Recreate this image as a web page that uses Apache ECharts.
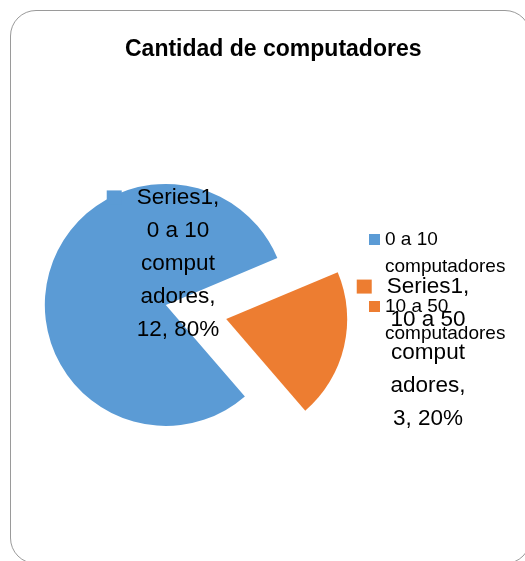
<!DOCTYPE html>
<html>
<head>
<meta charset="utf-8">
<script src="https://cdn.jsdelivr.net/npm/echarts@6/dist/echarts.min.js"></script>
<style>
  html, body { margin: 0; padding: 0; background: #fff; overflow: hidden; }
  #frame { position: absolute; left: 10px; top: 10px; width: 519px; height: 552px;
           border: 1px solid #9a9a9a; border-radius: 26px; box-sizing: content-box; }
  #chart { position: absolute; left: 0; top: 0; width: 525px; height: 561px; }
</style>
</head>
<body>
<div id="frame"></div>
<div id="chart"></div>
<script>
// ---- data ----
const chartTitle = 'Cantidad de computadores';
const seriesName = 'Series1';
const categories = ['0 a 10 computadores', '10 a 50 computadores'];
const values = [12, 3];

// ---- styling ----
const FONT = '"Liberation Sans", Arial, sans-serif';
const colors = ['#5B9BD5', '#ED7D31'];
// label shifts (dx, dy) relative to the default inside-label anchor, done with padding
const labelShifts = [[74, -27], [140, 19]];
function shiftPadding(s) {
  const dx = s[0], dy = s[1];
  return [dy > 0 ? 2 * dy : 0, dx < 0 ? -2 * dx : 0, dy < 0 ? -2 * dy : 0, dx > 0 ? 2 * dx : 0];
}

const measureCtx = document.createElement('canvas').getContext('2d');
measureCtx.font = '22.5px ' + FONT;
function wrapText(text, maxW) {
  const words = text.split(' ');
  const lines = [];
  let cur = '';
  words.forEach(w => {
    const cand = cur ? cur + ' ' + w : w;
    if (measureCtx.measureText(cand).width <= maxW) { cur = cand; return; }
    if (cur) { lines.push(cur); cur = ''; }
    let piece = '';
    for (const ch of w) {
      if (measureCtx.measureText(piece + ch).width > maxW && piece) { lines.push(piece); piece = ch; }
      else piece += ch;
    }
    cur = piece;
  });
  if (cur) lines.push(cur);
  return lines;
}

const chart = echarts.init(document.getElementById('chart'), null, { renderer: 'canvas' });
chart.setOption({
  animation: false,
  color: colors,
  title: {
    text: chartTitle,
    left: 125, top: 38, padding: 0,
    textStyle: { fontFamily: FONT, fontSize: 23, fontWeight: 'bold', color: '#000' }
  },
  legend: {
    orient: 'vertical',
    left: 369, top: 199, padding: 0,
    itemWidth: 11, itemHeight: 11, itemGap: -14,
    icon: 'rect',
    selectedMode: false,
    data: categories,
    formatter: function (name) { return '\n' + name; },
    textStyle: {
      fontFamily: FONT, fontSize: 19, lineHeight: 27, color: '#000',
      width: 140, overflow: 'break'
    }
  },
  series: [{
    type: 'pie',
    name: seriesName,
    center: [196, 312],
    radius: 121,
    startAngle: 310.8,
    clockwise: true,
    selectedMode: 'multiple',
    selectedOffset: 31,
    avoidLabelOverlap: false,
    emphasis: { disabled: true },
    label: {
      show: true,
      position: 'inside',
      align: 'center',
      verticalAlign: 'middle',
      formatter: function (p) {
        const txt = p.seriesName + ', ' + p.name + ', ' + p.value + ', ' + Math.round(p.percent) + '%';
        const lines = wrapText(txt, 84);
        return lines.map((l, i) => i === 0
          ? '{k' + p.dataIndex + '|}{g|}{t|' + l + '}{g2|}'
          : '{t|' + l + '}').join('\n');
      },
      rich: {
        t: { fontFamily: FONT, fontSize: 22.5, lineHeight: 33, color: '#000' },
        k0: { width: 15, height: 14, backgroundColor: colors[0] },
        k1: { width: 15, height: 14, backgroundColor: colors[1] },
        g: { width: 15 },
        g2: { width: 30 }
      }
    },
    labelLine: { show: false },
    data: categories.map((name, i) => ({
      name: name, value: values[i], selected: true,
      label: { padding: shiftPadding(labelShifts[i]) }
    }))
  }]
});
</script>
</body>
</html>
